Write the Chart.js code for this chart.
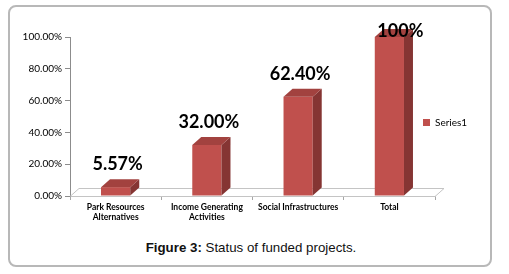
<!DOCTYPE html>
<html>
<head>
<meta charset="utf-8">
<script src="https://cdn.jsdelivr.net/npm/chart.js@4.4.0/dist/chart.umd.min.js"></script>
<style>
  body { margin: 0; background: #fff; width: 509px; height: 274px; overflow: hidden; position: relative; }
  .frame { position: absolute; left: 8px; top: 5px; width: 480px; height: 258px; border: 2px solid #b8b8b8; border-radius: 8px; }
  #wrap { position: absolute; left: 0; top: 0; }
  .caption { position: absolute; left: 0; width: 502px; top: 240px; text-align: center; font: 13.3px "Liberation Sans", Arial, sans-serif; color: #111; }
</style>
</head>
<body>
<div class="frame"></div>
<div id="wrap"><canvas id="chart" width="509" height="230"></canvas></div>
<div class="caption"><b>Figure 3:</b> Status of funded projects.</div>
<script>
// data
const categories = [["Park Resources", "Alternatives"], ["Income Generating", "Activities"], "Social Infrastructures", "Total"];
const shares = [0.0557, 0.32, 0.624, 1.0];
const shareLabels = ["5.57%", "32.00%", "62.40%", "100%"];
const seriesName = "Series1";
const yTicks = [0, 0.2, 0.4, 0.6, 0.8, 1.0];

// fake 3D depth of the excel chart
const DX = 9, DY = 8;

const bars3d = {
  id: 'bars3d',
  afterLayout(chart) {
    // excel puts the legend over the right end of the floor
    let lg = chart.legend;
    let pad = lg.options.labels.padding;
    let w = lg.right - lg.left;
    lg.left = 423 - pad;
    lg.right = lg.left + w;
    lg.top += 43;
    lg.bottom += 43;
  },
  beforeDatasetsDraw(chart) {
    const {ctx, chartArea: a} = chart;
    const base = Math.round(chart.scales.y.getPixelForValue(0)) + 0.5;
    ctx.save();
    ctx.strokeStyle = '#c4c4c4';
    ctx.lineWidth = 1;
    ctx.beginPath();
    ctx.moveTo(a.left, base);
    ctx.lineTo(a.left + DX, base - DY);
    ctx.lineTo(a.right + DX, base - DY);
    ctx.lineTo(a.right, base);
    ctx.stroke();
    ctx.restore();
  },
  afterDatasetsDraw(chart) {
    const ctx = chart.ctx;
    const meta = chart.getDatasetMeta(0);
    ctx.save();
    meta.data.forEach((bar, i) => {
      const {x, y, base, width} = bar.getProps(['x', 'y', 'base', 'width'], true);
      const l = x - width / 2, r = x + width / 2;
      ctx.fillStyle = '#853533';
      ctx.beginPath();
      ctx.moveTo(r, y); ctx.lineTo(r + DX, y - DY); ctx.lineTo(r + DX, base - DY); ctx.lineTo(r, base);
      ctx.closePath(); ctx.fill();
      ctx.fillStyle = '#a2423f';
      ctx.beginPath();
      ctx.moveTo(l, y); ctx.lineTo(l + DX, y - DY); ctx.lineTo(r + DX, y - DY); ctx.lineTo(r, y);
      ctx.closePath(); ctx.fill();

      let ly = y - DY - 15, lx = x + 2;
      if (ly < 31) { ly = 31; lx += DX; }
      ctx.font = 'bold 18px Lato';
      ctx.fillStyle = '#000';
      ctx.textAlign = 'center';
      ctx.textBaseline = 'middle';
      ctx.fillText(shareLabels[i], lx, ly);
    });
    ctx.restore();
  }
};

Chart.defaults.font.family = 'Lato';
Chart.defaults.color = '#000';

new Chart(document.getElementById('chart'), {
  type: 'bar',
  data: {
    labels: categories,
    datasets: [{
      label: seriesName,
      data: shares,
      backgroundColor: '#c0504d',
      borderWidth: 0,
      categoryPercentage: 1,
      barPercentage: 0.32
    }]
  },
  options: {
    responsive: false,
    devicePixelRatio: 1,
    animation: false,
    layout: { padding: { left: 20, top: 37, right: 74, bottom: 0 } },
    plugins: {
      legend: {
        position: 'chartArea',
        labels: { boxWidth: 7, boxHeight: 7, padding: 6, font: { size: 10 } }
      },
      tooltip: { enabled: false }
    },
    scales: {
      x: {
        grid: { drawOnChartArea: false, tickLength: 4, color: '#a6a6a6' },
        border: { color: '#c4c4c4' },
        ticks: { font: { size: 8.5, weight: 'bold' }, padding: 2, maxRotation: 0, autoSkip: false },
        afterFit(s) { s.height = 34; }
      },
      y: {
        min: 0, max: 1,
        grid: { drawOnChartArea: false, tickLength: 5, color: '#8c8c8c' },
        border: { color: '#8c8c8c' },
        afterBuildTicks(s) { s.ticks = yTicks.map(v => ({value: v})); },
        ticks: {
          font: { size: 10 }, padding: 3,
          callback: v => (v * 100).toFixed(2) + '%'
        },
        afterFit(s) { s.width = 50; }
      }
    }
  },
  plugins: [bars3d]
});
</script>
</body>
</html>
